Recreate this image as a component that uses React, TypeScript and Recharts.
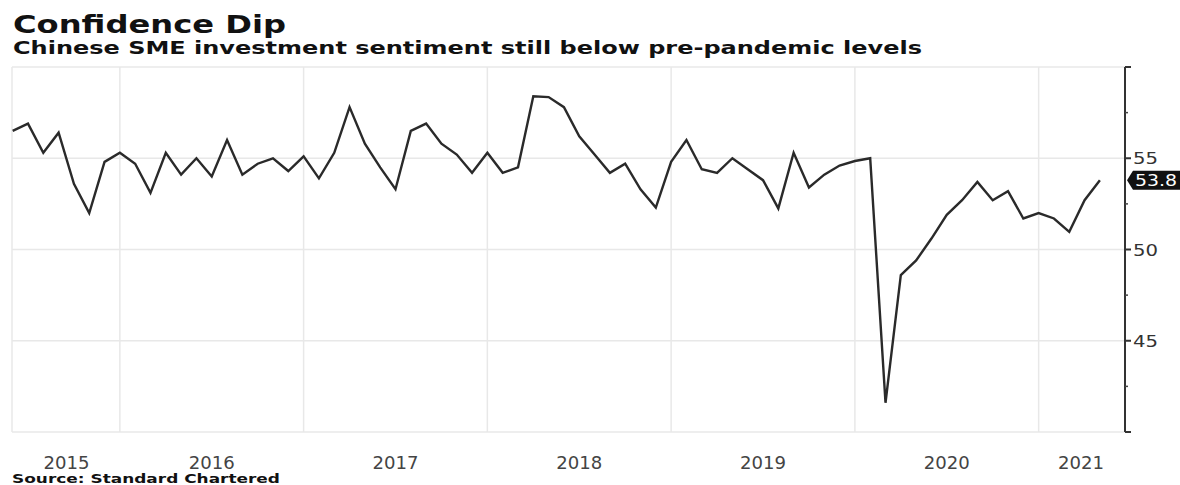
import React from 'react';
import { LineChart, Line, XAxis, YAxis, CartesianGrid } from 'recharts';

// Monthly SME investment sentiment index, month-end readings from May 2015
const startYear = 2015;
const startMonth = 5; // end of May
const sentiment = [
  56.5, 56.9, 55.3, 56.4, 53.6, 52.0, 54.8, 55.3,
  54.7, 53.1, 55.3, 54.1, 55.0, 54.0, 56.0, 54.1, 54.7, 55.0, 54.3, 55.1,
  53.9, 55.3, 57.8, 55.8, 54.5, 53.3, 56.5, 56.9, 55.8, 55.2, 54.2, 55.3,
  54.2, 54.5, 58.4, 58.35, 57.8, 56.2, 55.2, 54.2, 54.7, 53.3, 52.3, 54.8,
  56.0, 54.4, 54.2, 55.0, 54.4, 53.8, 52.25, 55.3, 53.4, 54.1, 54.6, 54.85,
  55.0, 41.6, 48.6, 49.4, 50.6, 51.9, 52.7, 53.7, 52.7, 53.2, 51.7, 52.0,
  51.7, 50.97, 52.7, 53.8,
];

// Year boundaries (vertical grid) and year label positions (centre of each visible year)
const yearBoundaries = [2016, 2017, 2018, 2019, 2020, 2021];
const yearLabelPositions = [2015.71, 2016.5, 2017.5, 2018.5, 2019.5, 2020.5, 2021.23];
const xDomain = [2015.413, 2021.47];

const yDomain = [40, 60];
const gridValues = [40, 45, 50, 55, 60];
const labeledValues = [45, 50, 55];
const minorValues = [42.5, 47.5, 52.5, 57.5];

const lastValue = sentiment[sentiment.length - 1];

const data = sentiment.map((v, i) => ({ t: startYear + (startMonth + i) / 12, v }));

const FONT = '"DejaVu Sans", Verdana, sans-serif';
const PLOT_BOTTOM = 432;

const YearTick = (props: any) => {
  const { x, payload } = props;
  return (
    <text
      x={x}
      y={PLOT_BOTTOM + 37}
      textAnchor="middle"
      fontFamily={FONT}
      fontSize={17}
      fill="#444"
      textLength={46}
      lengthAdjust="spacingAndGlyphs"
    >
      {String(Math.floor(payload.value))}
    </text>
  );
};

const ValueTick = (props: any) => {
  const { x, y, payload } = props;
  const v = payload.value;
  if (v === lastValue) {
    const h = 19;
    return (
      <g>
        <path
          d={`M${x + 2},${y} L${x + 8},${y - h / 2} L${x + 55},${y - h / 2} L${x + 55},${y + h / 2} L${x + 8},${y + h / 2} Z`}
          fill="#111"
        />
        <text
          x={x + 10}
          y={y + 6}
          fontFamily={FONT}
          fontSize={16}
          fill="#fff"
          textLength={42}
          lengthAdjust="spacingAndGlyphs"
        >
          {v.toFixed(1)}
        </text>
      </g>
    );
  }
  if (minorValues.includes(v)) {
    return <line x1={x} y1={y} x2={x + 3} y2={y} stroke="#444" strokeWidth={1.5} />;
  }
  const labeled = labeledValues.includes(v);
  return (
    <g>
      <line x1={x} y1={y} x2={x + 6} y2={y} stroke="#333" strokeWidth={2} />
      {labeled && (
        <text
          x={x + 8}
          y={y + 6}
          fontFamily={FONT}
          fontSize={16}
          fill="#333"
          textLength={25}
          lengthAdjust="spacingAndGlyphs"
        >
          {String(v)}
        </text>
      )}
    </g>
  );
};

export default function App() {
  const yTicks = [...gridValues, ...minorValues, lastValue];
  return (
    <div style={{ position: 'absolute', left: 0, top: 0, width: 1180, height: 485, background: '#fff' }}>
      <LineChart
        width={1180}
        height={485}
        data={data}
        margin={{ top: 67, right: 0, bottom: 23, left: 12 }}
      >
        <CartesianGrid
          xAxisId="grid"
          yAxisId="grid"
          stroke="#e8e8e8"
          strokeWidth={1.5}
        />
        <XAxis
          xAxisId="grid"
          type="number"
          dataKey="t"
          domain={xDomain}
          ticks={yearBoundaries}
          allowDataOverflow
          hide
        />
        <XAxis
          xAxisId="years"
          type="number"
          dataKey="t"
          domain={xDomain}
          ticks={yearLabelPositions}
          interval={0}
          allowDataOverflow
          axisLine={false}
          tickLine={false}
          tickSize={0}
          tickMargin={0}
          height={30}
          tick={<YearTick />}
        />
        <YAxis
          yAxisId="grid"
          type="number"
          domain={yDomain}
          ticks={gridValues}
          allowDataOverflow
          hide
        />
        <YAxis
          yAxisId="value"
          orientation="right"
          type="number"
          domain={yDomain}
          ticks={yTicks}
          interval={0}
          allowDataOverflow
          width={55}
          axisLine={{ stroke: '#333', strokeWidth: 2 }}
          tickLine={false}
          tickSize={0}
          tickMargin={0}
          tick={<ValueTick />}
        />
        <Line
          xAxisId="years"
          yAxisId="value"
          type="linear"
          dataKey="v"
          stroke="#2a2a2a"
          strokeWidth={2.4}
          dot={false}
          isAnimationActive={false}
        />
      </LineChart>
      <svg
        width={1180}
        height={485}
        style={{ position: 'absolute', left: 0, top: 0, pointerEvents: 'none' }}
      >
        <text x={13} y={33} fontFamily={FONT} fontWeight="bold" fontSize={25} fill="#111" textLength={273} lengthAdjust="spacingAndGlyphs">
          Confidence Dip
        </text>
        <text x={13} y={53.5} fontFamily={FONT} fontWeight="bold" fontSize={17} fill="#111" textLength={909} lengthAdjust="spacingAndGlyphs">
          Chinese SME investment sentiment still below pre-pandemic levels
        </text>
        <text x={12} y={483} fontFamily={FONT} fontWeight="bold" fontSize={13} fill="#111" textLength={268} lengthAdjust="spacingAndGlyphs">
          Source: Standard Chartered
        </text>
      </svg>
    </div>
  );
}
